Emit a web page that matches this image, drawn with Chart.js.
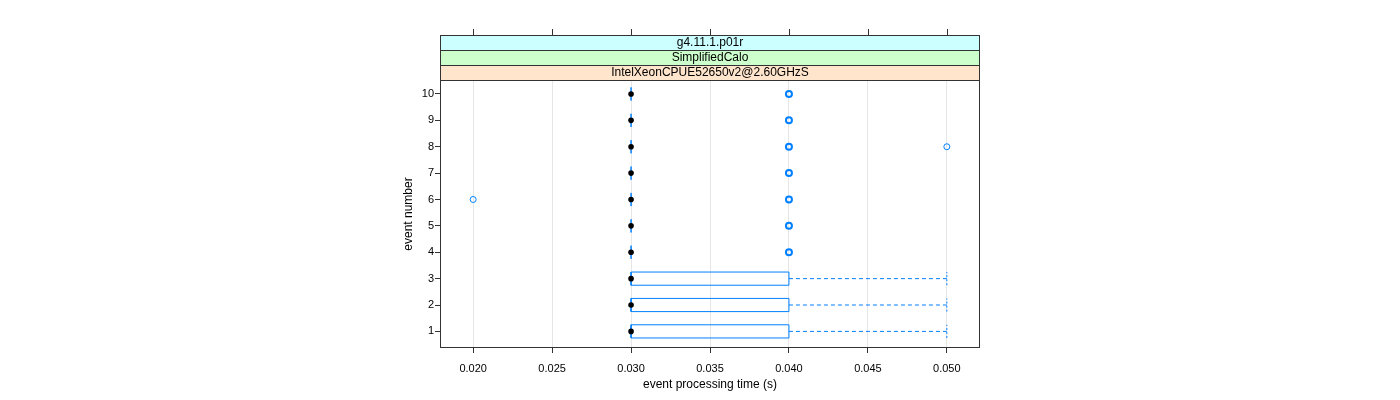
<!DOCTYPE html>
<html><head><meta charset="utf-8">
<script src="https://cdn.jsdelivr.net/npm/chart.js@4/dist/chart.umd.min.js"></script>
<style>html,body{margin:0;padding:0;background:#fff}#wrap{width:1400px;height:400px}</style>
</head><body><div id="wrap"><canvas id="c" width="1400" height="400"></canvas></div>
<script>
// ---- data ----
const events    = [1, 2, 3, 4, 5, 6, 7, 8, 9, 10];
const lowerHinge= [0.03,0.03,0.03,0.03,0.03,0.03,0.03,0.03,0.03,0.03];
const medians   = [0.03,0.03,0.03,0.03,0.03,0.03,0.03,0.03,0.03,0.03];
const upperHinge= [0.04,0.04,0.04,0.03,0.03,0.03,0.03,0.03,0.03,0.03];
const whiskerLo = [0.03,0.03,0.03,0.03,0.03,0.03,0.03,0.03,0.03,0.03];
const whiskerHi = [0.05,0.05,0.05,0.03,0.03,0.03,0.03,0.03,0.03,0.03];
const outlierEvent = [4, 5, 6, 7, 8, 9, 10, 6, 8];
const outlierTime  = [0.04,0.04,0.04,0.04,0.04,0.04,0.04,0.02,0.05];
const outlierCount = [3, 3, 3, 3, 3, 3, 3, 1, 1];
const xTicks = [0.020, 0.025, 0.030, 0.035, 0.040, 0.045, 0.050];
const yTicks = [1,2,3,4,5,6,7,8,9,10];
const strips = ["g4.11.1.p01r", "SimplifiedCalo", "IntelXeonCPUE52650v2@2.60GHzS"];
const stripColors = ["#ccffff", "#ccffcc", "#ffe5cc"];
const xLabel = "event processing time (s)";
const yLabel = "event number";

const BLUE = "#0080ff";
const half = 0.25; // half box height in event units

const boxPts = [], whiskPts = [], capPts = [];
events.forEach((e, i) => {
  const a = lowerHinge[i], b = upperHinge[i];
  boxPts.push({x:a,y:e-half},{x:b,y:e-half},{x:b,y:e+half},{x:a,y:e+half},{x:a,y:e-half},{x:NaN,y:NaN});
  if (whiskerHi[i] > b) {
    whiskPts.push({x:b,y:e},{x:whiskerHi[i],y:e},{x:NaN,y:NaN});
    capPts.push({x:whiskerHi[i],y:e-half},{x:whiskerHi[i],y:e+half},{x:NaN,y:NaN});
  }
  if (whiskerLo[i] < a) {
    whiskPts.push({x:whiskerLo[i],y:e},{x:a,y:e},{x:NaN,y:NaN});
    capPts.push({x:whiskerLo[i],y:e-half},{x:whiskerLo[i],y:e+half},{x:NaN,y:NaN});
  }
});

const FONT = "'Liberation Sans', Arial, Helvetica, sans-serif";

const framePlugin = {
  id: 'frame',
  afterDraw(chart) {
    const {ctx, chartArea: ca, scales} = chart;
    ctx.save();
    const sh = 15;
    const top0 = ca.top - sh * strips.length;
    strips.forEach((s, k) => {
      const y0 = top0 + k * sh;
      ctx.fillStyle = stripColors[k];
      ctx.fillRect(ca.left, y0, ca.right - ca.left, sh);
      ctx.strokeStyle = "#333";
      ctx.lineWidth = 1;
      ctx.strokeRect(Math.round(ca.left)+0.5, Math.round(y0)+0.5, Math.round(ca.right-ca.left)-1, sh);
      ctx.fillStyle = "#000";
      ctx.font = "12px " + FONT;
      ctx.textAlign = "center";
      ctx.textBaseline = "middle";
      ctx.fillText(s, (ca.left + ca.right) / 2, y0 + sh / 2 + 0.5);
    });
    ctx.strokeStyle = "#333";
    ctx.beginPath();
    xTicks.forEach(v => {
      const px = Math.round(scales.x.getPixelForValue(v)) + 0.5;
      ctx.moveTo(px, top0 - 6); ctx.lineTo(px, top0);
    });
    ctx.stroke();
    ctx.strokeRect(Math.round(ca.left)+0.5, Math.round(ca.top)+0.5, Math.round(ca.right-ca.left)-1, Math.round(ca.bottom-ca.top)-1);
    ctx.restore();
  }
};

new Chart(document.getElementById('c'), {
  type: 'scatter',
  data: {
    datasets: [
      { label:'median', order:0, data: events.map((e,i)=>({x:medians[i], y:e})), pointRadius:2.8, pointBackgroundColor:'#000', pointBorderColor:'#000', pointBorderWidth:0, showLine:false },
      { label:'outliers', order:1, data: outlierEvent.map((e,i)=>({x:outlierTime[i], y:e})), pointRadius:3, pointBackgroundColor:'rgba(0,0,0,0)', pointBorderColor:BLUE,
        pointBorderWidth: ctx => outlierCount[ctx.dataIndex] > 1 ? 2 : 1, showLine:false },
      { label:'box', order:2, data: boxPts, showLine:true, spanGaps:false, borderColor:BLUE, borderWidth:1, pointRadius:0, fill:false },
      { label:'whisker', order:3, data: whiskPts, showLine:true, spanGaps:false, borderColor:BLUE, borderWidth:1, borderDash:[4,3], pointRadius:0 },
      { label:'cap', order:4, data: capPts, showLine:true, spanGaps:false, borderColor:BLUE, borderWidth:1, borderDash:[2,2], pointRadius:0 }
    ]
  },
  options: {
    responsive:false, animation:false, devicePixelRatio:1,
    layout: { padding: { left: 397, right: 420, top: 80, bottom: 4 } },
    plugins: { legend:{display:false}, tooltip:{enabled:false} },
    scales: {
      x: {
        type:'linear', min:0.0179, max:0.0521,
        afterBuildTicks: s => { s.ticks = xTicks.map(v => ({value:v})); },
        afterFit: s => { s.height = 48; },
        grid: { color:'#e6e6e6', tickColor:'#333', tickLength:5, drawOnChartArea:true },
        border: { display:false },
        ticks: { color:'#000', font:{family:FONT, size:11}, padding:9, maxRotation:0, callback: v => v.toFixed(3) },
        title: { display:true, text:xLabel, color:'#000', font:{family:FONT, size:12}, padding:{top:0,bottom:4} }
      },
      y: {
        type:'linear', min:0.37, max:10.53,
        afterBuildTicks: s => { s.ticks = yTicks.map(v => ({value:v})); },
        afterFit: s => { s.width = 43; },
        grid: { drawOnChartArea:false, tickColor:'#333', tickLength:5 },
        border: { display:false },
        ticks: { color:'#000', font:{family:FONT, size:11}, padding:1 },
        title: { display:true, text:yLabel, color:'#000', font:{family:FONT, size:12}, padding:{top:4,bottom:0} }
      }
    }
  },
  plugins: [framePlugin]
});
</script></body></html>
